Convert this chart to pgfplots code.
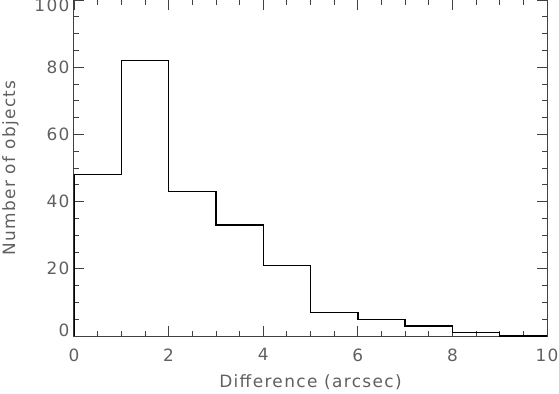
\documentclass[border=0pt]{standalone}
\usepackage{fontspec}
\setmainfont{DejaVu Sans}[LetterSpace=8]
\usepackage{pgfplots}
\pgfplotsset{compat=1.18}
\definecolor{txt}{HTML}{606060}
\definecolor{frame}{HTML}{404040}
\newcommand{\yl}[2]{\raisebox{#1}[0pt][0pt]{#2}}
\begin{document}
\begin{tikzpicture}
\begin{axis}[
  scale only axis, width=473bp, height=336bp,
  xmin=0, xmax=10, ymin=0, ymax=100,
  xtick={0,2,...,10}, ytick={0,20,...,100},
  yticklabels={\yl{0bp}{0},\yl{-6bp}{20},\yl{-6bp}{40},\yl{-6bp}{60},\yl{-6bp}{80},\yl{-12bp}{100}},
  minor x tick num=3, minor y tick num=3,
  tick align=inside, major tick length=10bp, minor tick length=5bp,
  axis line style={frame, line width=1bp},
  every tick/.style={frame, line width=0.8bp},
  tick label style={font=\fontsize{17}{20}\selectfont, text=txt},
  label style={font=\fontsize{17}{20}\selectfont, text=txt},
  /pgf/number format/assume math mode=true,
  xticklabel style={yshift=-9bp},
  yticklabel style={xshift=-1bp},
  xlabel={Difference (arcsec)},
  ylabel={Number of objects},
  xlabel style={yshift=-6bp},
  ylabel style={yshift=9bp},
]
\addplot[const plot, black, line width=1.4bp] coordinates {
(0,0) (0,48) (1,82) (2,43) (3,33) (4,21) (5,7) (6,5) (7,3) (8,1) (9,0) (10,0)
};
\end{axis}
\pgfresetboundingbox
\path ([xshift=-74bp,yshift=-58bp]current axis.south west) rectangle ([xshift=12bp]current axis.north east);
\end{tikzpicture}
\end{document}
